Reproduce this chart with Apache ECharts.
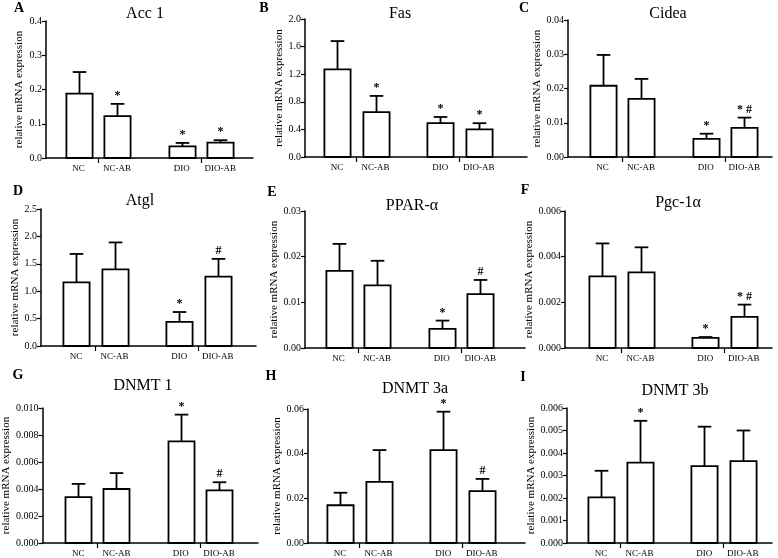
<!DOCTYPE html>
<html>
<head>
<meta charset="utf-8">
<script src="https://cdn.jsdelivr.net/npm/echarts@6/dist/echarts.min.js"></script>
<style>
  html, body { margin: 0; padding: 0; background: #fff; }
  #main { width: 778px; height: 558px; }
</style>
</head>
<body>
<div id="main"></div>
<script>
// groups on the x axis
var groups = ['NC', 'NC-AB', 'DIO', 'DIO-AB'];
var genes = ['Acc 1', 'Fas', 'Cidea', 'Atgl', 'PPAR-α', 'Pgc-1α', 'DNMT 1', 'DNMT 3a', 'DNMT 3b'];
var letters = ['A', 'B', 'C', 'D', 'E', 'F', 'G', 'H', 'I'];

// mean values and upper error (SD)
var acc1Mean = [0.188, 0.122, 0.034, 0.045];
var acc1Sd   = [0.063, 0.036, 0.010, 0.007];
var fasMean  = [1.27, 0.65, 0.49, 0.40];
var fasSd    = [0.41, 0.235, 0.09, 0.09];
var cideaMean = [0.0208, 0.0170, 0.0053, 0.0085];
var cideaSd   = [0.0090, 0.0058, 0.0015, 0.0030];
var atglMean = [1.16, 1.40, 0.44, 1.265];
var atglSd   = [0.52, 0.49, 0.18, 0.325];
var pparMean = [0.0169, 0.0137, 0.0042, 0.0118];
var pparSd   = [0.0059, 0.0054, 0.0018, 0.0031];
var pgcMean  = [0.00314, 0.00331, 0.00044, 0.00136];
var pgcSd    = [0.00144, 0.00110, 0.00004, 0.00054];
var dnmt1Mean = [0.0034, 0.0040, 0.00753, 0.0039];
var dnmt1Sd   = [0.00098, 0.00118, 0.00198, 0.0006];
var dnmt3aMean = [0.0169, 0.0274, 0.0416, 0.0232];
var dnmt3aSd   = [0.0056, 0.0142, 0.0172, 0.0055];
var dnmt3bMean = [0.00203, 0.00357, 0.00342, 0.00364];
var dnmt3bSd   = [0.00118, 0.00186, 0.00175, 0.00136];

// significance marks
var acc1Sig   = ['', '*', '*', '*'];
var fasSig    = ['', '*', '*', '*'];
var cideaSig  = ['', '', '*', '*#'];
var atglSig   = ['', '', '*', '#'];
var pparSig   = ['', '', '*', '#'];
var pgcSig    = ['', '', '*', '*#'];
var dnmt1Sig  = ['', '', '*', '#'];
var dnmt3aSig = ['', '', '*', '#'];
var dnmt3bSig = ['', '*', '', ''];

// y axis ticks
var yMax  = [0.4, 2.0, 0.04, 2.5, 0.03, 0.006, 0.010, 0.06, 0.006];
var yStep = [0.1, 0.4, 0.01, 0.5, 0.01, 0.002, 0.002, 0.02, 0.001];
var yDec  = [1, 1, 2, 1, 2, 3, 3, 2, 3];

var allMean = [acc1Mean, fasMean, cideaMean, atglMean, pparMean, pgcMean, dnmt1Mean, dnmt3aMean, dnmt3bMean];
var allSd = [acc1Sd, fasSd, cideaSd, atglSd, pparSd, pgcSd, dnmt1Sd, dnmt3aSd, dnmt3bSd];
var allSig = [acc1Sig, fasSig, cideaSig, atglSig, pparSig, pgcSig, dnmt1Sig, dnmt3aSig, dnmt3bSig];

/*** layout (pixels) ***/
var FONT = 'Liberation Serif, Times New Roman, serif';
var UNIT = 38.5;               // px per x unit
var xPos = [1, 2, 3.68, 4.68]; // bar positions on x
var barW = 0.68;
// [axisLeft, axisEnd, top, bottom, offsetToFirstBar, yNameX]
var panels = [
  [46, 253, 21, 158, 32.5, 19],
  [305, 527, 19, 157, 32, 285],
  [568, 772, 20, 157, 34.5, 548],
  [41, 256, 209, 346, 35, 17],
  [305, 525, 211, 348, 33.5, 280],
  [565, 772, 211, 348, 37, 542],
  [41, 258, 408, 544, 36, 18],
  [308, 525, 409, 545, 32, 277],
  [567, 772, 408, 543, 34, 539]
];
var titlePos = [[145, 15], [400, 15], [668, 15], [140, 202], [412, 207], [678, 204], [143, 387], [415, 390], [675, 392]];
var letterPos = [[19, 8], [264, 8], [524, 8], [18, 191], [272, 192], [525, 190], [18, 375], [271, 376], [523, 377]];

var grid = [], xAxis = [], yAxis = [], series = [], title = [];

panels.forEach(function (p, k) {
  var xmin = 1 - p[4] / UNIT;
  var xmax = xmin + (p[1] - p[0]) / UNIT;
  grid.push({ left: p[0], top: p[2], width: p[1] - p[0], height: p[3] - p[2], containLabel: false });
  xAxis.push({
    type: 'value', gridIndex: k, min: xmin, max: xmax,
    splitLine: { show: false },
    axisLine: { show: true, onZero: false, lineStyle: { color: '#000', width: 1.5 } },
    axisTick: { show: true, length: 5, customValues: [(xPos[0] + xPos[1]) / 2, (xPos[2] + xPos[3]) / 2], lineStyle: { color: '#000', width: 1.2 } },
    axisLabel: {
      show: true, customValues: xPos, margin: 6,
      fontFamily: FONT, fontSize: 9, color: '#000',
      formatter: function (v) {
        for (var i = 0; i < xPos.length; i++) {
          if (Math.abs(xPos[i] - v) < 1e-6) return groups[i];
        }
        return '';
      }
    }
  });
  yAxis.push({
    type: 'value', gridIndex: k, min: 0, max: yMax[k], interval: yStep[k],
    name: 'relative mRNA expression', nameLocation: 'middle', nameGap: p[0] - p[5] - 6,
    nameTextStyle: { fontFamily: FONT, fontSize: 11, color: '#000' },
    splitLine: { show: false },
    axisLine: { show: true, lineStyle: { color: '#000', width: 1.5 } },
    axisTick: { show: true, length: 4, lineStyle: { color: '#000', width: 1.2 } },
    axisLabel: {
      fontFamily: FONT, fontSize: 10, color: '#000', margin: 4,
      formatter: function (v) { return v.toFixed(yDec[k]); }
    }
  });

  var mean = allMean[k], sd = allSd[k], sig = allSig[k];
  var data = groups.map(function (g, i) { return [xPos[i], mean[i], mean[i] + sd[i]]; });
  series.push({
    type: 'custom', xAxisIndex: k, yAxisIndex: k, clip: false,
    encode: { x: 0, y: [1, 2] },
    data: data,
    renderItem: function (params, api) {
      var x = api.value(0), m = api.value(1), t = api.value(2);
      var base = api.coord([x, 0]);
      var top = api.coord([x, m]);
      var et = api.coord([x, t]);
      var w = api.size([barW, 0])[0];
      var capW = w * 0.52;
      var cx = Math.round(base[0]) + 0.5;
      var children = [
        { type: 'rect', shape: { x: cx - w / 2, y: top[1], width: w, height: base[1] - top[1] },
          style: { fill: '#fff', stroke: '#000', lineWidth: 1.8 } },
        { type: 'line', shape: { x1: cx, y1: top[1], x2: cx, y2: et[1] },
          style: { stroke: '#000', lineWidth: 1.8 } },
        { type: 'line', shape: { x1: cx - capW / 2, y1: et[1], x2: cx + capW / 2, y2: et[1] },
          style: { stroke: '#000', lineWidth: 1.8 } }
      ];
      var s = sig[params.dataIndex];
      if (s) {
        children.push({ type: 'text', x: cx, y: et[1] - 2,
          style: { text: s.split('').join(' '), fontFamily: FONT, fontSize: 12, fontWeight: 'bold',
                   fill: '#000', align: 'center', verticalAlign: 'bottom' } });
      }
      return { type: 'group', children: children };
    }
  });

  title.push({
    text: genes[k], left: titlePos[k][0], top: titlePos[k][1] - 9, textAlign: 'center', padding: 0,
    textStyle: { fontFamily: FONT, fontSize: 16, fontWeight: 'normal', color: '#000' }
  });
  title.push({
    text: letters[k], left: letterPos[k][0], top: letterPos[k][1] - 7, textAlign: 'center', padding: 0,
    textStyle: { fontFamily: FONT, fontSize: 14, fontWeight: 'bold', color: '#000' }
  });
});

var myChart = echarts.init(document.getElementById('main'), null, { renderer: 'canvas' });
var option = {
  backgroundColor: '#fff',
  animation: false,
  title: title,
  grid: grid,
  xAxis: xAxis,
  yAxis: yAxis,
  series: series
};
myChart.setOption(option);
</script>
</body>
</html>
